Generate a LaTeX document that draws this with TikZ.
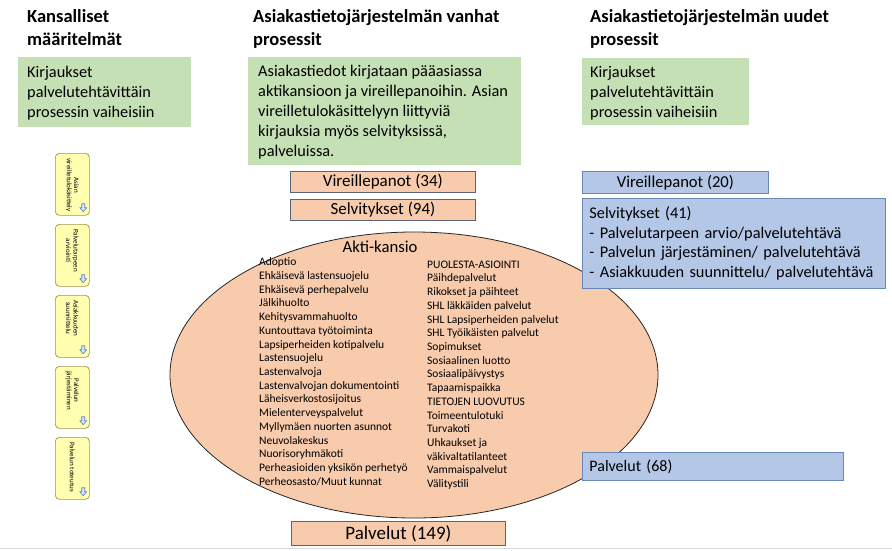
\documentclass[tikz,border=0pt]{standalone}
\usepackage{fontspec}
\setmainfont{Carlito}
\usetikzlibrary{shapes.geometric,calc}
\definecolor{greenfill}{RGB}{197,224,180}
\definecolor{orangefill}{RGB}{248,203,173}
\definecolor{orangeline}{RGB}{90,100,125}
\definecolor{bluefill}{RGB}{180,199,231}
\definecolor{blueline}{RGB}{105,135,185}
\definecolor{yellowfill}{RGB}{255,255,175}
\definecolor{yellowline}{RGB}{165,145,85}
\definecolor{iconblue}{RGB}{90,130,200}
\definecolor{iconfill}{RGB}{215,230,250}
\tikzset{
  heading/.style={anchor=north west, inner sep=0pt, align=left, font=\bfseries\fontsize{18.5}{23}\selectfont},
  greenbox/.style={fill=greenfill, draw=none, anchor=north west, inner sep=0pt},
  greentext/.style={anchor=west, inner sep=0pt, align=left, font=\fontsize{16.3}{20.3}\selectfont},
  orangebox/.style={fill=orangefill, draw=orangeline, line width=0.8pt, anchor=north west, inner sep=0pt, font=\fontsize{17}{18}\selectfont},
  bluebox/.style={fill=bluefill, draw=blueline, line width=0.8pt, anchor=north west, inner sep=0pt, font=\fontsize{16.3}{19.7}\selectfont},
  stagebox/.style={fill=yellowfill, draw=yellowline, line width=0.7pt, rounded corners=4pt, minimum width=34pt, minimum height=62pt, anchor=north west, inner sep=0pt},
  stagetext/.style={rotate=-90, anchor=west, align=center, inner sep=0pt, font=\fontsize{7}{7.4}\selectfont},
  arrowicon/.style={fill=iconfill, draw=iconblue, line width=0.6pt, line join=round},
  listtext/.style={anchor=north west, inner sep=0pt, align=left, font=\fontsize{11.5}{13.72}\selectfont}
}
\begin{document}
\begin{tikzpicture}[x=1pt,y=-1pt]
\useasboundingbox[fill=white] (0,0) rectangle (892,550);

% headings
\node[heading] (h1) at (27,9) {Kansalliset\\määritelmät};
\node[heading] (h2) at (253,9) {Asiakastietojärjestelmän vanhat\\prosessit};
\node[heading] (h3) at (590,9) {Asiakastietojärjestelmän uudet\\prosessit};

% green boxes
\node[greenbox, minimum width=173pt, minimum height=70pt] (g1) at (18,57) {};
\node[greentext] (g1t) at ($(g1.west)+(9,1)$) {Kirjaukset\\palvelutehtävittäin\\prosessin vaiheisiin};
\node[greenbox, minimum width=273pt, minimum height=108pt] (g2) at (248,57) {};
\node[greentext, font=\fontsize{16.3}{20}\selectfont] (g2t) at ($(g2.west)+(10,1)$)
  {Asiakastiedot kirjataan pääasiassa\\aktikansioon ja vireillepanoihin. Asian\\vireilletulokäsittelyyn liittyviä\\kirjauksia myös selvityksissä,\\palveluissa.};
\node[greenbox, minimum width=167pt, minimum height=67pt] (g3) at (582,58) {};
\node[greentext] (g3t) at ($(g3.west)+(8,1.5)$) {Kirjaukset\\palvelutehtävittäin\\prosessin vaiheisiin};

% stage boxes
\node[stagebox] (s1) at (55,153) {};
\node[stagebox] (s2) at (55,224) {};
\node[stagebox] (s3) at (55,295) {};
\node[stagebox] (s4) at (55,366) {};
\node[stagebox] (s5) at (55,437) {};
\node[stagetext] (t1) at ($(s1.north)+(0,5)$) {Asian\\vireilletulokäsittely};
\node[stagetext] (t2) at ($(s2.north)+(0,5)$) {Palvelutarpeen\\arviointi};
\node[stagetext] (t3) at ($(s3.north)+(0,5)$) {Asiakkuuden\\suunnittelu};
\node[stagetext] (t4) at ($(s4.north)+(0,5)$) {Palvelun\\järjestäminen};
\node[stagetext] (t5) at ($(s5.north)+(0,5)$) {Palvelun toteutus};
\foreach \s in {s1,s2,s3,s4,s5}{
  \draw[arrowicon, shift={($(\s.south east)+(-6.5,-12)$)}]
    (-1.5,0) -- (1.5,0) -- (1.5,4) -- (3.5,4) -- (0,8) -- (-3.5,4) -- (-1.5,4) -- cycle;
}

% old processes
\node[orangebox, minimum width=185pt, minimum height=21pt] (v34) at (290,171) {Vireillepanot (34)};
\node[orangebox, minimum width=185pt, minimum height=21pt] (s94) at (290,199) {Selvitykset (94)};
\node[ellipse, fill=orangefill, draw=black!85, line width=0.8pt, minimum width=488pt, minimum height=286pt, inner sep=0pt] (akti) at (414,375) {};
\node[anchor=north, inner sep=0pt, font=\fontsize{16.7}{18}\selectfont] (aktit) at (380,241) {Akti-kansio};
\node[listtext] (l1) at (259,257.5) {Adoptio\\Ehkäisevä lastensuojelu\\Ehkäisevä perhepalvelu\\Jälkihuolto\\Kehitysvammahuolto\\Kuntouttava työtoiminta\\Lapsiperheiden kotipalvelu\\Lastensuojelu\\Lastenvalvoja\\Lastenvalvojan dokumentointi\\Läheisverkostosijoitus\\Mielenterveyspalvelut\\Myllymäen nuorten asunnot\\Neuvolakeskus\\Nuorisoryhmäkoti\\Perheasioiden yksikön perhetyö\\Perheosasto/Muut kunnat};
\node[listtext] (l2) at (427,260.5) {PUOLESTA-ASIOINTI\\Päihdepalvelut\\Rikokset ja päihteet\\SHL läkkäiden palvelut\\SHL Lapsiperheiden palvelut\\SHL Työikäisten palvelut\\Sopimukset\\Sosiaalinen luotto\\Sosiaalipäivystys\\Tapaamispaikka\\TIETOJEN LUOVUTUS\\Toimeentulotuki\\Turvakoti\\Uhkaukset ja\\väkivaltatilanteet\\Vammaispalvelut\\Välitystili};
\node[orangebox, minimum width=214pt, minimum height=24pt, font=\fontsize{19}{20}\selectfont] (p149) at (291,521) {Palvelut (149)};

% new processes
\node[bluebox, minimum width=186pt, minimum height=22pt, font=\fontsize{16.6}{18}\selectfont] (v20) at (582,171) {Vireillepanot (20)};
\node[bluebox, minimum width=303pt, minimum height=90pt, align=left, text width=289pt, inner xsep=7pt] (s41) at (582,198)
  {Selvitykset (41)\\- Palvelutarpeen arvio/palvelutehtävä\\- Palvelun järjestäminen/ palvelutehtävä\\- Asiakkuuden suunnittelu/ palvelutehtävä};
\node[bluebox, minimum width=261pt, minimum height=28pt, align=left, text width=247pt, inner xsep=7pt, font=\fontsize{16}{18}\selectfont] (p68) at (582,452) {Palvelut (68)};

% slide edge
\coordinate (el) at (0,548);
\coordinate (er) at (892,548);
\draw[black!15, line width=0.8pt] (el) -- (er);
\end{tikzpicture}
\end{document}
